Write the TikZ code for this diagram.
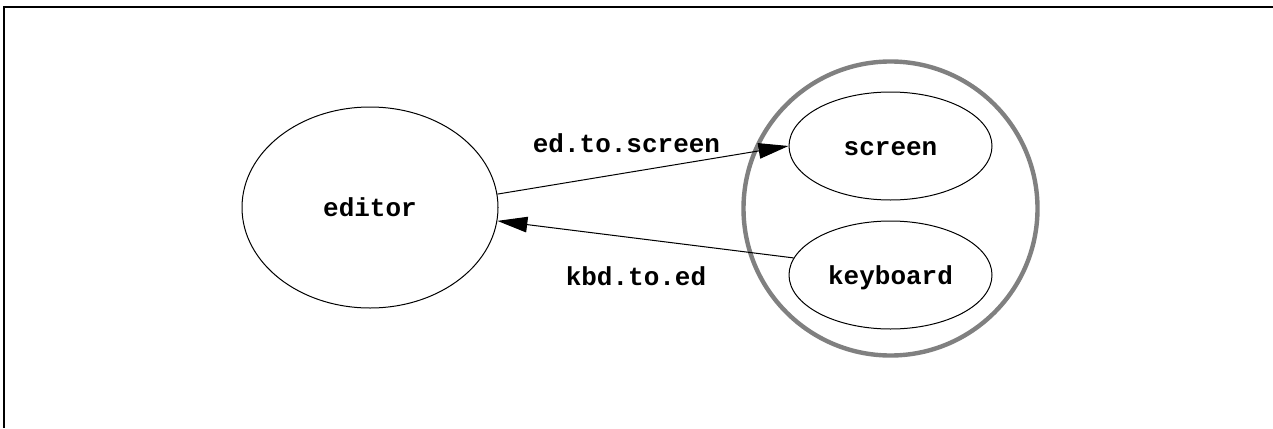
\documentclass[tikz,border=0pt]{standalone}
\usepackage{fontspec}
\setmonofont{Liberation Mono}
\usetikzlibrary{shapes.geometric,arrows.meta}
\definecolor{clustergray}{RGB}{128,128,128}
\begin{document}
\begin{tikzpicture}[x=0.5pt,y=-0.5pt,
  every node/.style={font=\fontsize{13}{15}\selectfont\ttfamily\bfseries},
  proc/.style={ellipse, draw, line width=0.5pt, inner sep=0pt, text height=9pt, text depth=0pt},
  cluster/.style={circle, draw=clustergray, line width=2.2pt, inner sep=0pt, minimum size=147pt},
  flow/.style={line width=0.5pt, -{Triangle[length=15pt,width=7.8pt]}},
  lbl/.style={anchor=base, inner sep=0pt}]
\useasboundingbox (0,0) rectangle (1273,428);
\draw[line width=0.6pt] (1273,7) -- (4,7) -- (4,428);
\node[cluster] (grp) at (890.5,208.5) {};
\node[proc, minimum width=128pt, minimum height=100.5pt] (editor) at (370,207.5) {editor};
\node[proc, minimum width=101.5pt, minimum height=54pt] (screen) at (890.5,146) {screen};
\node[proc, minimum width=101.5pt, minimum height=54pt] (keyboard) at (890.5,275) {keyboard};
\draw[flow] (editor.6.9) -- (screen.west);
\draw[flow] (keyboard.170.1) -- (editor.-6.9);
\node[lbl] (l1) at (626.5,152) {ed.to.screen};
\node[lbl] (l2) at (636,285) {kbd.to.ed};
\end{tikzpicture}
\end{document}
